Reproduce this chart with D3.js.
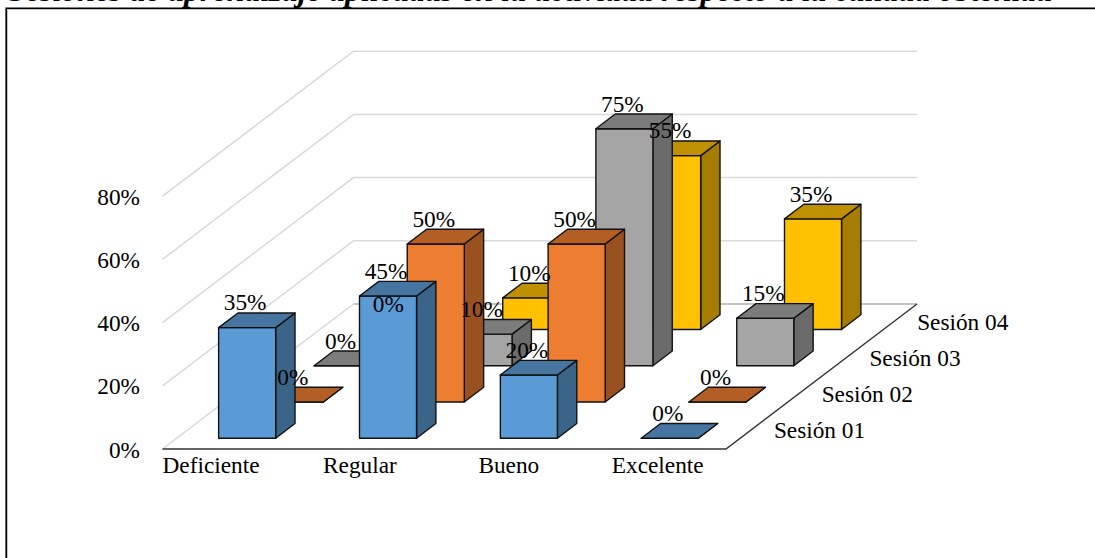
<!DOCTYPE html>
<html lang="es">
<head>
<meta charset="utf-8">
<title>Sesiones de aprendizaje</title>
<script src="https://cdn.jsdelivr.net/npm/d3@7"></script>
<style>
  html, body { margin: 0; padding: 0; background: #fff; }
  svg { display: block; }
  text { font-family: "Liberation Serif", "Times New Roman", serif; fill: #000; }
</style>
</head>
<body>
<svg id="chart" width="1095" height="558"></svg>
<script>
// Chart content
const captionText = "Sesiones de aprendizaje aplicadas en la actividad respecto a la calidad obtenida";
const categories = ["Deficiente", "Regular", "Bueno", "Excelente"];
const sessions = ["Sesión 01", "Sesión 02", "Sesión 03", "Sesión 04"];
const session01 = [35, 45, 20, 0];
const session02 = [0, 50, 50, 0];
const session03 = [0, 10, 75, 15];
const session04 = [0, 10, 55, 35];
const seriesValues = [session01, session02, session03, session04];
const valueTicks = [0, 20, 40, 60, 80];

// Face colours per session: front, top, side
const faceColors = [
  { front: "#5b9bd5", top: "#4675a2", side: "#3a6488" },
  { front: "#ed7d31", top: "#b25e25", side: "#9a5120" },
  { front: "#a5a5a5", top: "#7c7c7c", side: "#6b6b6b" },
  { front: "#ffc000", top: "#bf9000", side: "#a67d00" }
];

// Oblique projection of the plot box
const floor = { left: 162.5, right: 726, front: 449, depthX: 191, depthY: 145 };
const wallHeight = 252.8;

const xBand = d3.scaleBand().domain(categories)
  .range([floor.left, floor.right]).paddingInner(0.595).paddingOuter(0.2975);
const zBand = d3.scaleBand().domain(sessions)
  .range([0, 1]).paddingInner(0.595).paddingOuter(0.2975);
const yHeight = d3.scaleLinear().domain([0, 80]).range([0, wallHeight]);

// Screen position for a plot x, a depth fraction (0 front, 1 back) and a value
const project = (x, z, v) => [x + z * floor.depthX, floor.front - z * floor.depthY - yHeight(v)];
const polygon = pts => d3.line()(pts) + "Z";

const svg = d3.select("#chart");

// Caption above the frame, running off the top of the page
svg.append("text").attr("x", 8).attr("y", 0.8)
  .attr("font-size", 32).attr("font-style", "italic").attr("font-weight", 700)
  .text(captionText);

// Frame: top and left rules only
const frame = svg.append("g").attr("fill", "none");
frame.append("path").attr("d", "M7.5,558V9.5H1095").attr("stroke", "#c4c4c4").attr("stroke-width", 1);
frame.append("path").attr("d", "M6.2,558V8.3H1095").attr("stroke", "#000").attr("stroke-width", 1.6);

// Gridlines along the side wall and the back wall
const grid = svg.append("g").attr("fill", "none").attr("stroke", "#d9d9d9").attr("stroke-width", 1.5);
grid.selectAll("path").data(valueTicks.slice(1)).join("path")
  .attr("d", v => d3.line()([
    project(floor.left, 0, v), project(floor.left, 1, v), project(floor.right, 1, v)
  ]));

// Floor outline
const floorG = svg.append("g").attr("fill", "none");
floorG.append("path").attr("d", d3.line()([project(floor.left, 0, 0), project(floor.left, 1, 0)]))
  .attr("stroke", "#d9d9d9").attr("stroke-width", 1.5);
floorG.append("path").attr("d", d3.line()([project(floor.left, 1, 0), project(floor.right, 1, 0)]))
  .attr("stroke", "#c4c4c4").attr("stroke-width", 1.8);
floorG.append("path").attr("d", d3.line()([
  project(floor.left, 0, 0), project(floor.right, 0, 0), project(floor.right, 1, 0)
])).attr("stroke", "#333").attr("stroke-width", 1.4);

// Bars, painted from the back row forward
const bars = svg.append("g").attr("stroke", "#111").attr("stroke-width", 1.4).attr("stroke-linejoin", "round");
const labelData = [];
d3.range(sessions.length).reverse().forEach(s => {
  const z0 = zBand(sessions[s]);
  const z1 = z0 + zBand.bandwidth();
  categories.forEach((cat, c) => {
    const v = seriesValues[s][c];
    const x0 = xBand(cat);
    const x1 = x0 + xBand.bandwidth();
    const g = bars.append("g");
    g.append("path").attr("fill", faceColors[s].side).attr("d", polygon([
      project(x1, z0, 0), project(x1, z1, 0), project(x1, z1, v), project(x1, z0, v)
    ]));
    g.append("path").attr("fill", faceColors[s].front).attr("d", polygon([
      project(x0, z0, 0), project(x1, z0, 0), project(x1, z0, v), project(x0, z0, v)
    ]));
    g.append("path").attr("fill", faceColors[s].top).attr("d", polygon([
      project(x0, z0, v), project(x1, z0, v), project(x1, z1, v), project(x0, z1, v)
    ]));
    const front = project((x0 + x1) / 2, z0, v);
    const back = project(x0, z1, v);
    labelData.push({ x: front[0] - 2, y: back[1] - 2.5, text: v + "%" });
  });
});

// Value labels sit above every bar
const fontSize = 23.3;
svg.append("g").attr("font-size", fontSize).attr("text-anchor", "middle")
  .selectAll("text").data(labelData).join("text")
  .attr("x", d => d.x).attr("y", d => d.y).text(d => d.text);

// Value axis labels
svg.append("g").attr("font-size", fontSize).attr("text-anchor", "end")
  .selectAll("text").data(valueTicks).join("text")
  .attr("x", floor.left - 22.5)
  .attr("y", v => project(floor.left, 0, v)[1] + 8.5)
  .text(v => v + "%");

// Category labels
const categoryLabelX = d3.scalePoint().domain(categories).range([211, 657.7]);
svg.append("g").attr("font-size", fontSize).attr("text-anchor", "middle")
  .selectAll("text").data(categories).join("text")
  .attr("x", d => categoryLabelX(d)).attr("y", floor.front + 23.5).text(d => d);

// Session labels along the right floor edge
svg.append("g").attr("font-size", fontSize)
  .selectAll("text").data(sessions).join("text")
  .attr("x", d => project(floor.right, zBand(d) + zBand.bandwidth() / 2, 0)[0] + 24)
  .attr("y", d => project(floor.right, zBand(d) + zBand.bandwidth() / 2, 0)[1] + 7.5)
  .text(d => d);
</script>
</body>
</html>
